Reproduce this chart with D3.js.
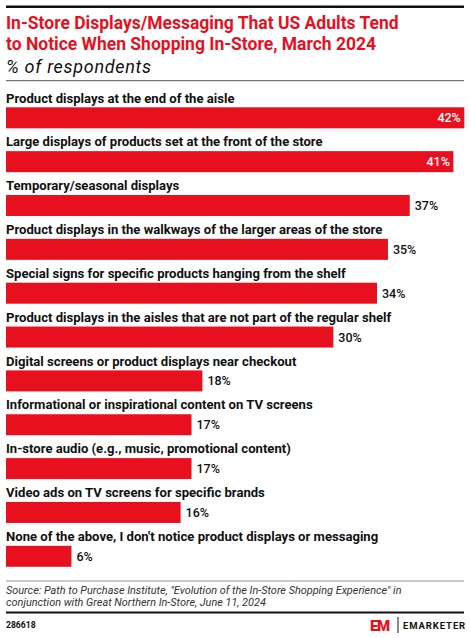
<!DOCTYPE html>
<html>
<head>
<meta charset="utf-8">
<script src="https://cdn.jsdelivr.net/npm/d3@7"></script>
<style>
  body { margin: 0; background: #fff; }
  text { font-family: Roboto, "Liberation Sans", sans-serif; }
</style>
</head>
<body>
<div id="chart"></div>
<script>
/* DATA */
const categories = [
  "Product displays at the end of the aisle",
  "Large displays of products set at the front of the store",
  "Temporary/seasonal displays",
  "Product displays in the walkways of the larger areas of the store",
  "Special signs for specific products hanging from the shelf",
  "Product displays in the aisles that are not part of the regular shelf",
  "Digital screens or product displays near checkout",
  "Informational or inspirational content on TV screens",
  "In-store audio (e.g., music, promotional content)",
  "Video ads on TV screens for specific brands",
  "None of the above, I don't notice product displays or messaging"
];
const values = [42, 41, 37, 35, 34, 30, 18, 17, 17, 16, 6];
const titleLines = [
  "In-Store Displays/Messaging That US Adults Tend",
  "to Notice When Shopping In-Store, March 2024"
];
const subtitle = "% of respondents";
const sourceLines = [
  "Source: Path to Purchase Institute, \"Evolution of the In-Store Shopping Experience\" in",
  "conjunction with Great Northern In-Store, June 11, 2024"
];
const chartId = "286618";

/* CONSTANTS */
const width = 470, height = 638;
const margin = { left: 6, right: 6 };
const red = "#e8101e";

const data = categories.map((c, i) => ({ label: c, value: values[i] }));

const svg = d3.select("#chart").append("svg")
  .attr("width", width)
  .attr("height", height);

// top rule
svg.append("rect")
  .attr("x", margin.left).attr("y", 5.5)
  .attr("width", width - margin.left - margin.right).attr("height", 2.5)
  .attr("fill", "#111");

// title
svg.selectAll("text.title")
  .data(titleLines)
  .join("text")
  .attr("class", "title")
  .attr("x", margin.left)
  .attr("y", (d, i) => 29.3 + i * 20.8)
  .attr("font-size", 17.5)
  .attr("font-weight", 700)
  .attr("fill", red)
  .text(d => d);

svg.append("text")
  .attr("x", margin.left)
  .attr("y", 72.7)
  .attr("font-size", 18)
  .attr("font-style", "italic")
  .attr("letter-spacing", 0.7)
  .attr("fill", "#111")
  .text(subtitle);

svg.append("line")
  .attr("x1", margin.left).attr("x2", width - margin.right)
  .attr("y1", 80.7).attr("y2", 80.7)
  .attr("stroke", "#555").attr("stroke-width", 1);

/* SCALES */
const xScale = d3.scaleLinear()
  .domain([0, 42])
  .range([margin.left, 464.3]);

const yScale = d3.scaleBand()
  .domain(categories)
  .range([86, 86 + 11 * 43.85])
  .paddingInner(0);

const barH = 21;

const rows = svg.selectAll("g.row")
  .data(data)
  .join("g")
  .attr("class", "row")
  .attr("transform", d => `translate(0, ${yScale(d.label)})`);

rows.append("text")
  .attr("x", margin.left)
  .attr("y", 16.5)
  .attr("font-size", 13.1)
  .attr("font-weight", 700)
  .attr("fill", "#111")
  .text(d => d.label);

rows.append("rect")
  .attr("x", xScale(0))
  .attr("y", 21.3)
  .attr("width", d => xScale(d.value) - xScale(0))
  .attr("height", barH)
  .attr("fill", red);

// values inside bars for the two biggest, outside for the rest
rows.append("text")
  .attr("x", d => d.value >= 40 ? xScale(d.value) - 3.5 : xScale(d.value) + 5)
  .attr("y", 21.3 + barH / 2 + 4.5)
  .attr("text-anchor", d => d.value >= 40 ? "end" : "start")
  .attr("font-size", 12.5)
  .attr("font-weight", 500)
  .attr("fill", d => d.value >= 40 ? "#fff" : "#111")
  .text(d => d.value + "%");

/* FOOTER */
svg.append("line")
  .attr("x1", margin.left).attr("x2", width - margin.right)
  .attr("y1", 581).attr("y2", 581)
  .attr("stroke", "#999").attr("stroke-width", 1);

svg.selectAll("text.source")
  .data(sourceLines)
  .join("text")
  .attr("class", "source")
  .attr("x", margin.left)
  .attr("y", (d, i) => 594 + i * 12.3)
  .attr("font-size", 10.9)
  .attr("font-style", "italic")
  .attr("fill", "#333")
  .text(d => d);

svg.append("rect")
  .attr("x", margin.left).attr("y", 611.5)
  .attr("width", width - margin.left - margin.right).attr("height", 2)
  .attr("fill", "#111");

svg.append("text")
  .attr("x", margin.left)
  .attr("y", 628)
  .attr("font-size", 8.6)
  .attr("font-weight", 700)
  .attr("fill", "#111")
  .text(chartId);

// logo
const logo = svg.append("g").attr("transform", "translate(370, 619)");
logo.append("text")
  .attr("x", 0).attr("y", 11.5)
  .attr("font-size", 15)
  .attr("font-weight", 900)
  .attr("fill", red)
  .attr("letter-spacing", -1.5)
  .text("EM");
logo.append("line")
  .attr("x1", 28).attr("x2", 28)
  .attr("y1", -2).attr("y2", 14)
  .attr("stroke", "#111").attr("stroke-width", 1);
logo.append("text")
  .attr("x", 33).attr("y", 10)
  .attr("font-size", 9.5)
  .attr("font-weight", 700)
  .attr("letter-spacing", 0.9)
  .attr("fill", "#111")
  .text("EMARKETER");
</script>
</body>
</html>
